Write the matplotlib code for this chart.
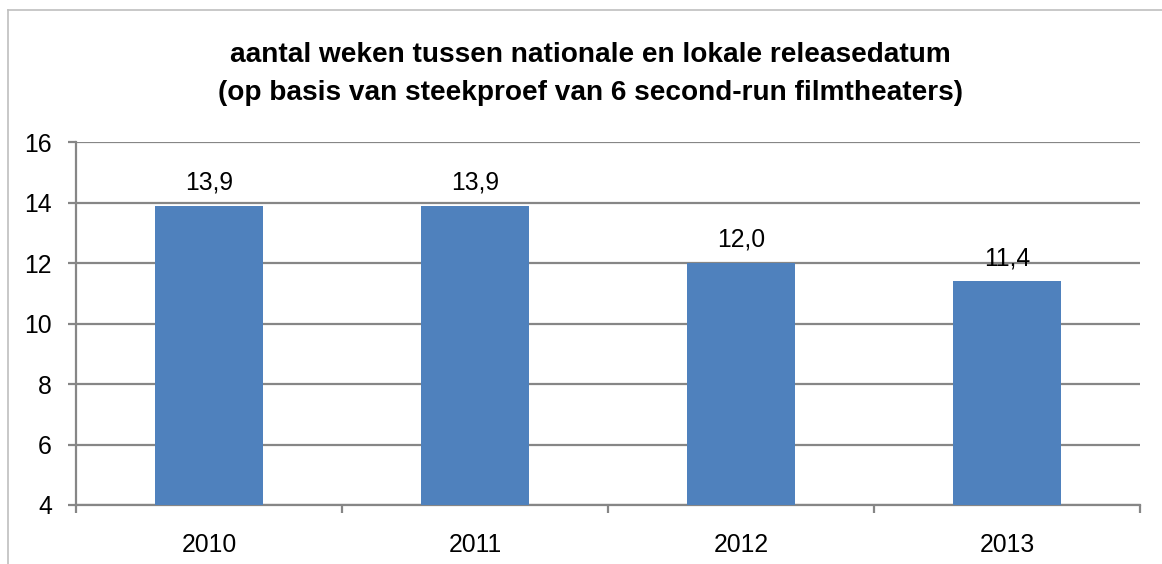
import matplotlib
matplotlib.use("Agg")
import matplotlib.pyplot as plt
from matplotlib.lines import Line2D

# data
years = ["2010", "2011", "2012", "2013"]
weeks = [13.9, 13.9, 12.0, 11.4]
labels = ["13,9", "13,9", "12,0", "11,4"]
yticks = [4, 6, 8, 10, 12, 14, 16]

plt.rcParams["font.family"] = ["Liberation Sans", "DejaVu Sans"]

grid_c = "#868686"
bar_c = "#4F81BD"

fig = plt.figure(figsize=(11.62, 5.64), dpi=100)
fig.patch.set_facecolor("white")
ax = fig.add_axes([76 / 1162, 59 / 564, (1140 - 76) / 1162, (505 - 142) / 564])

x = list(range(len(years)))
ax.bar(x, weeks, width=0.405, color=bar_c, zorder=3)

ax.set_xlim(-0.5, len(years) - 0.5)
ax.set_ylim(4, 16)
ax.set_yticks(yticks)
ax.set_yticklabels([str(v) for v in yticks])
ax.yaxis.grid(True, color=grid_c, linewidth=1.6, zorder=0)
ax.set_axisbelow(True)

ax.set_xticks(x)
ax.set_xticklabels(years)
ax.set_xticks([i - 0.5 for i in range(len(years) + 1)], minor=True)
ax.tick_params(axis="x", which="major", length=0, pad=20, labelsize=17.8)
ax.tick_params(axis="x", which="minor", length=5.8, width=1.6, color=grid_c, direction="out")
ax.tick_params(axis="y", length=5.8, width=1.6, color=grid_c, pad=11.5, labelsize=17.8)

for s in ["top", "right"]:
    ax.spines[s].set_visible(False)
for s in ["left", "bottom"]:
    ax.spines[s].set_color(grid_c)
    ax.spines[s].set_linewidth(1.6)

# data labels
for xi, v, lab in zip(x, weeks, labels):
    ax.annotate(lab, (xi, v), xytext=(0, 8), textcoords="offset points",
                ha="center", va="bottom", fontsize=17.8)

# title, two lines
fig.text(590 / 1162, 1 - 62 / 564, "aantal weken tussen nationale en lokale releasedatum",
         ha="center", va="baseline", fontsize=20.2, fontweight="bold")
fig.text(590 / 1162, 1 - 100 / 564, "(op basis van steekproef van 6 second-run filmtheaters)",
         ha="center", va="baseline", fontsize=20.2, fontweight="bold")

# chart frame (cropped)
fig.add_artist(Line2D([8 / 1162, 8 / 1162], [0, 1 - 10 / 564], color="#BFBFBF",
                      linewidth=1.2, transform=fig.transFigure))
fig.add_artist(Line2D([8 / 1162, 1], [1 - 10 / 564, 1 - 10 / 564], color="#BFBFBF",
                      linewidth=1.2, transform=fig.transFigure))

fig.savefig("out.png", dpi=100, facecolor="white")
